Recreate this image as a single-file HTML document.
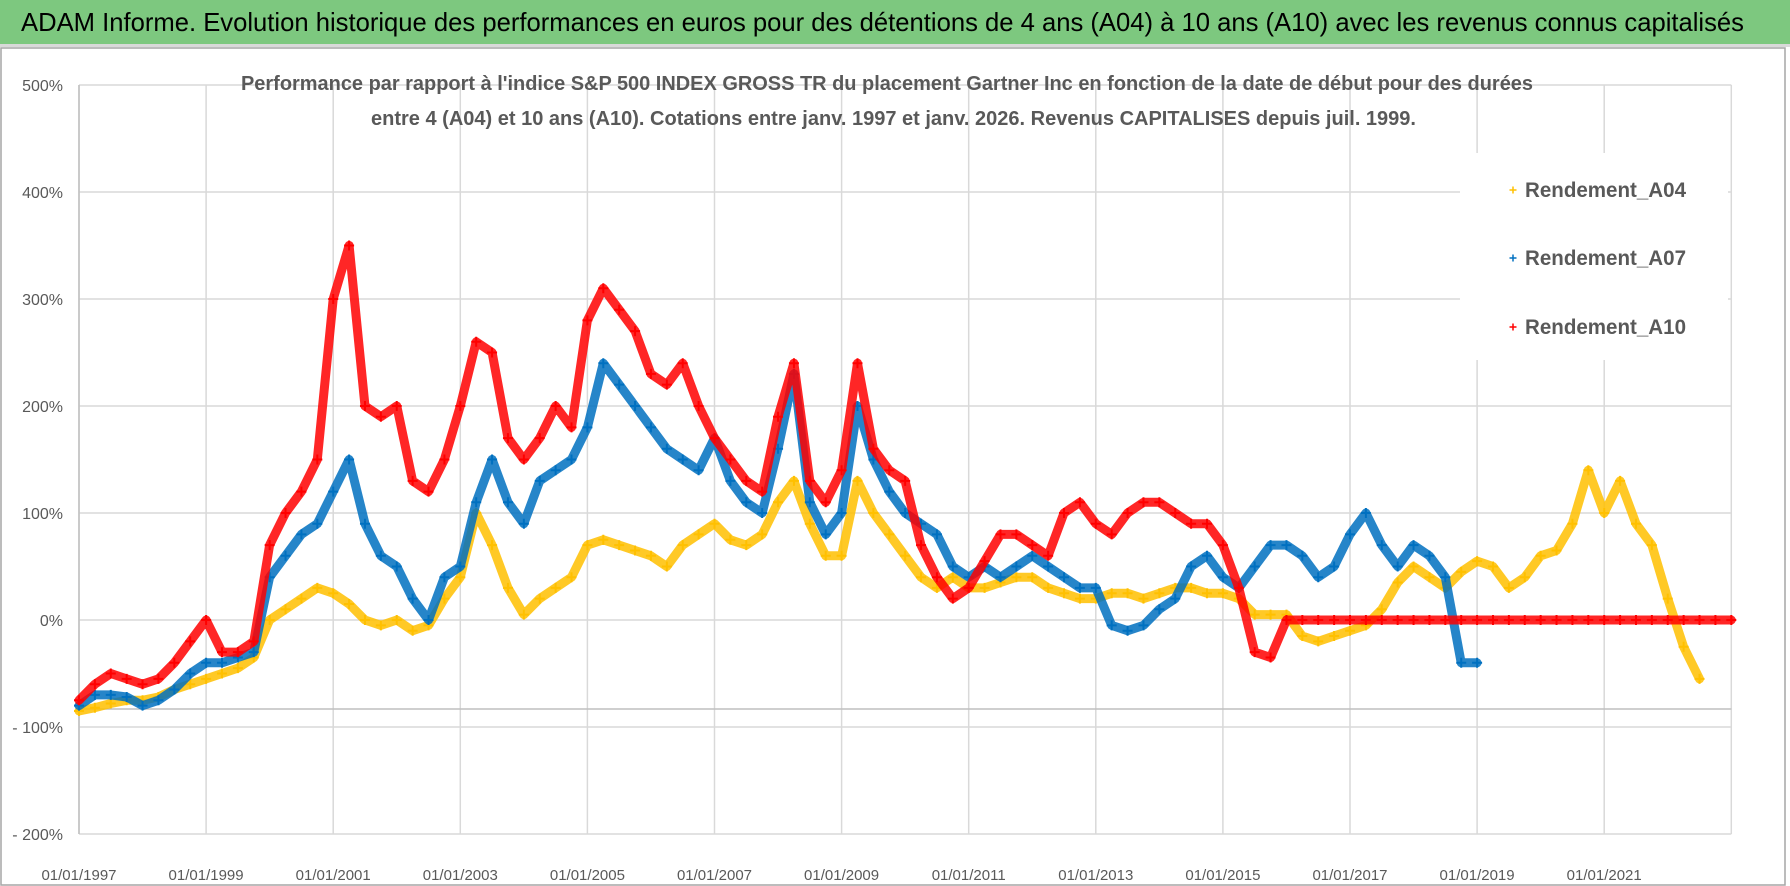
<!DOCTYPE html>
<html><head><meta charset="utf-8">
<style>
html,body{margin:0;padding:0;background:#fff;}
svg{display:block;font-family:"Liberation Sans",sans-serif;}
</style></head>
<body>
<svg id="chart" width="1790" height="886" viewBox="0 0 1790 886" xmlns="http://www.w3.org/2000/svg">
  <rect x="0" y="0" width="1790" height="886" fill="#fff"/>
  <rect x="0" y="0" width="1790" height="44" fill="#7dc87f"/>
  <rect x="0" y="44" width="1790" height="3" fill="#d9d9d9"/>
  <text x="21" y="31" font-size="26" fill="#000" textLength="1723" lengthAdjust="spacingAndGlyphs">ADAM Informe. Evolution historique des performances en euros pour des détentions de 4 ans (A04) à 10 ans (A10) avec les revenus connus capitalisés</text>
  <rect x="1" y="48" width="1784" height="837" fill="none" stroke="#a6a6a6" stroke-width="1.5"/>
  <g id="grid"></g>
  <g id="series"></g>
  <g id="axes"></g>
  <text x="241" y="90" font-size="20" font-weight="bold" fill="#595959" textLength="1292" lengthAdjust="spacingAndGlyphs">Performance par rapport à l'indice S&amp;P 500 INDEX GROSS TR  du placement Gartner Inc en fonction de la date de début pour des durées</text>
  <text x="371" y="125" font-size="20" font-weight="bold" fill="#595959" textLength="1045" lengthAdjust="spacingAndGlyphs">entre 4 (A04) et 10 ans (A10). Cotations entre janv. 1997 et janv. 2026. Revenus CAPITALISES depuis juil. 1999.</text>
  <g id="legend">
    <rect x="1460" y="153" width="268" height="207" fill="#fff"/>
  </g>
</svg>
<script>
// ---- data (quarterly values in %, starting 1997-01-01) ----
const startYear = 1997;
const stepYears = 0.25;
const yTicks = [500, 400, 300, 200, 100, 0, -100, -200];
const yTickLabels = ["500%", "400%", "300%", "200%", "100%", "0%", "- 100%", "- 200%"];
const xTickYears = [1997, 1999, 2001, 2003, 2005, 2007, 2009, 2011, 2013, 2015, 2017, 2019, 2021];
const xTickLabels = ["01/01/1997","01/01/1999","01/01/2001","01/01/2003","01/01/2005","01/01/2007","01/01/2009","01/01/2011","01/01/2013","01/01/2015","01/01/2017","01/01/2019","01/01/2021"];
const seriesNames = ["Rendement_A04", "Rendement_A07", "Rendement_A10"];
const a04 = [-85,-82,-78,-75, -75,-72,-65,-60, -55,-50,-45,-35, 0,10,20,30, 25,15,0,-5, 0,-10,-5,20,
  40,100,70,30, 5,20,30,40, 70,75,70,65, 60,50,70,80, 90,75,70,80, 110,130,90,60, 60,130,100,80,
  60,40,30,40, 30,30,35,40, 40,30,25,20, 20,25,25,20, 25,30,30,25, 25,20,5,5, 5,-15,-20,-15,
  -10,-5,10,35, 50,40,30,45, 55,50,30,40, 60,65,90,140, 100,130,90,70, 20,-25,-55];
const a07 = [-80,-70,-70,-72, -80,-75,-65,-50, -40,-40,-35,-30, 40,60,80,90, 120,150,90,60, 50,20,0,40,
  50,110,150,110, 90,130,140,150, 180,240,220,200, 180,160,150,140, 170,130,110,100, 160,230,110,80,
  100,200,150,120, 100,90,80,50, 40,50,40,50, 60,50,40,30, 30,-5,-10,-5, 10,20,50,60, 40,30,50,70,
  70,60,40,50, 80,100,70,50, 70,60,40,-40, -40];
const a10 = [-75,-60,-50,-55, -60,-55,-40,-20, 0,-30,-30,-20, 70,100,120,150, 300,350,200,190, 200,130,120,150,
  200,260,250,170, 150,170,200,180, 280,310,290,270, 230,220,240,200, 170,150,130,120, 190,240,130,110,
  140,240,160,140, 130,70,40,20, 30,55,80,80, 70,60,100,110, 90,80,100,110, 110,100,90,90, 70,30,-30,-35,
  0,0,0,0, 0,0,0,0, 0,0,0,0, 0,0,0,0, 0,0,0,0, 0,0,0,0, 0,0,0,0, 0];
const seriesData = [a04, a07, a10];
const seriesColors = ["#ffc000", "#0070c0", "#ff0000"];

// ---- axis functions ----
const X0 = 79, PX_PER_YEAR = 63.55, Y0 = 620, PX_PER_PCT = 1.07;
function xOf(year){ return X0 + (year - startYear) * PX_PER_YEAR; }
function yOf(v){ return Y0 - v * PX_PER_PCT; }
const NS = "http://www.w3.org/2000/svg";
function mk(tag, attrs, parent){ const e = document.createElementNS(NS, tag); for (const k in attrs) e.setAttribute(k, attrs[k]); parent.appendChild(e); return e; }

const grid = document.getElementById('grid');
const axes = document.getElementById('axes');
const plotRight = xOf(2023);
yTicks.forEach((t, i) => {
  const l = mk('line', {x1: xOf(1997), x2: plotRight, y1: yOf(t), y2: yOf(t), stroke: '#d9d9d9', 'stroke-width': 1.5}, grid);
  
  
  const tx = mk('text', {x: 63, y: yOf(t) + 6, 'font-size': 16, fill: '#595959', 'text-anchor': 'end'}, axes);
  tx.textContent = yTickLabels[i];
  
  
});
xTickYears.concat([2023]).forEach((yr) => {
  const l = mk('line', {x1: xOf(yr), x2: xOf(yr), y1: yOf(500), y2: yOf(-200), stroke: '#d9d9d9', 'stroke-width': 1.5}, grid);
  
  
});
const hax = mk('line', {x1: xOf(1997), x2: plotRight, y1: 709, y2: 709, stroke: '#bfbfbf', 'stroke-width': 1.5}, grid);


const vax = mk('line', {x1: xOf(1997), x2: xOf(1997), y1: yOf(500), y2: yOf(-200), stroke: '#bfbfbf', 'stroke-width': 1.5}, grid);


xTickYears.forEach((yr, i) => {
  const tx = mk('text', {x: xOf(yr), y: 880, 'font-size': 15, fill: '#595959', 'text-anchor': 'middle'}, axes);
  tx.textContent = xTickLabels[i];
  
  
});

// ---- series ----
const sl = document.getElementById('series');
function plus(g, x, y, s, color, w){
  mk('path', {d: `M${x-s},${y}H${x+s}M${x},${y-s}V${y+s}`, stroke: color, 'stroke-width': w, fill: 'none'}, g);
}
seriesData.forEach((arr, si) => {
  const g = mk('g', {}, sl);
  
  
  const pts = arr.map((v, i) => xOf(startYear + i * stepYears).toFixed(1) + ',' + yOf(v).toFixed(1)).join(' ');
  mk('polyline', {points: pts, fill: 'none', stroke: seriesColors[si], 'stroke-width': 9, 'stroke-linejoin': 'round', 'stroke-linecap': 'round', opacity: 0.85}, g);
  arr.forEach((v, i) => {
    plus(g, xOf(startYear + i * stepYears), yOf(v), 5, seriesColors[si], 2);
  });
});

// ---- legend ----
const lg = document.getElementById('legend');
const legendY = [190, 258, 327];
seriesNames.forEach((n, i) => {
  const g = mk('g', {}, lg);
  
  
  plus(g, 1513, legendY[i], 3.5, seriesColors[i], 1.5);
  const t = mk('text', {x: 1525, y: legendY[i] + 7, 'font-size': 21, 'font-weight': 'bold', fill: '#595959', textLength: 161, lengthAdjust: 'spacingAndGlyphs'}, g);
  t.textContent = n;
});
</script>
</body></html>
